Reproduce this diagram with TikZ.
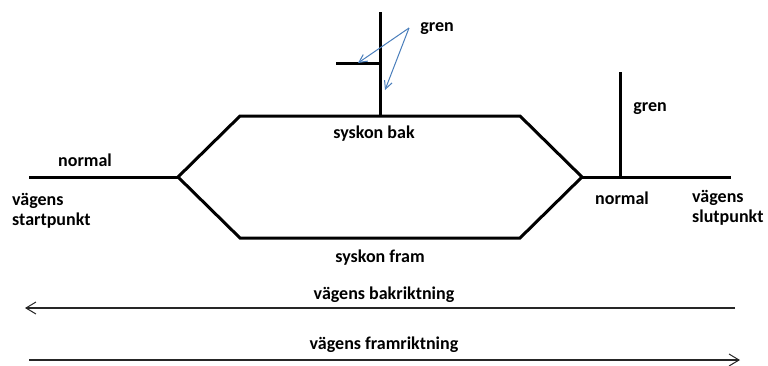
\documentclass[tikz,border=0pt]{standalone}
\usepackage{fontspec}
\setmainfont{Carlito}
\usetikzlibrary{arrows.meta}
\begin{document}
\begin{tikzpicture}[x=1pt,y=-1pt,
  track/.style={line width=3pt,line join=miter},
  lbl/.style={font=\fontsize{18}{20}\selectfont\bfseries,inner sep=0pt},
  lbll/.style={lbl,anchor=west,align=left},
  dirarrow/.style={line width=1.1pt,draw=black!85,-{Straight Barb[length=10pt,width=12pt,line width=1pt]}},
  pointer/.style={line width=1pt,draw=blue!45!cyan!60!black,color={rgb,255:red,74;green,126;blue,187},-{Straight Barb[length=8pt,width=8pt,line width=1pt]}}
]
\useasboundingbox (0,0) rectangle (768,365);
% coordinates of the track
\coordinate (start) at (29,177);
\coordinate (vl) at (178,177);
\coordinate (tl) at (240,116);
\coordinate (tr) at (520,116);
\coordinate (vr) at (582,177);
\coordinate (bl) at (240,238);
\coordinate (br) at (520,238);
\coordinate (slut) at (731,177);
\coordinate (gtop) at (380,12);
\coordinate (gbase) at (380,116);
\coordinate (stubend) at (336,63);
\coordinate (stubbase) at (380,63);
\coordinate (g2top) at (620,72);
\coordinate (g2base) at (620,177);
% track
\draw[track] (start) -- (vl);
\draw[track] (vl) -- (tl) -- (tr) -- (vr);
\draw[track] (vl) -- (bl) -- (br) -- (vr);
\draw[track] (vr) -- (slut);
\draw[track] (gtop) -- (gbase);
\draw[track] (stubend) -- (stubbase);
\draw[track] (g2top) -- (g2base);
% labels
\node[lbl] (gren1) at (437,29) {gren};
\node[lbl] (gren2) at (650,109) {gren};
\node[lbl] (syskonbak) at (374,134) {syskon bak};
\node[lbl] (syskonfram) at (380,258) {syskon fram};
\node[lbl] (normal1) at (85,160) {normal};
\node[lbl] (normal2) at (622,198) {normal};
\node[lbll] (startpkt) at (12,211) {vägens\\startpunkt};
\node[lbll] (slutpkt) at (692,208) {vägens\\slutpunkt};
\node[lbl] (bak) at (384,295) {vägens bakriktning};
\node[lbl] (fram) at (384,345) {vägens framriktning};
% pointer arrows
\coordinate (pfrom) at (409,28);
\coordinate (ptarget1) at (358,63);
\coordinate (ptarget2) at (385,90);
\draw[pointer] (pfrom) -- (ptarget1);
\draw[pointer] (pfrom) -- (ptarget2);
% direction arrows
\coordinate (bakR) at (735,308);
\coordinate (bakL) at (25,308);
\coordinate (framL) at (29,360);
\coordinate (framR) at (740,360);
\draw[dirarrow] (bakR) -- (bakL);
\draw[dirarrow] (framL) -- (framR);
\end{tikzpicture}
\end{document}
